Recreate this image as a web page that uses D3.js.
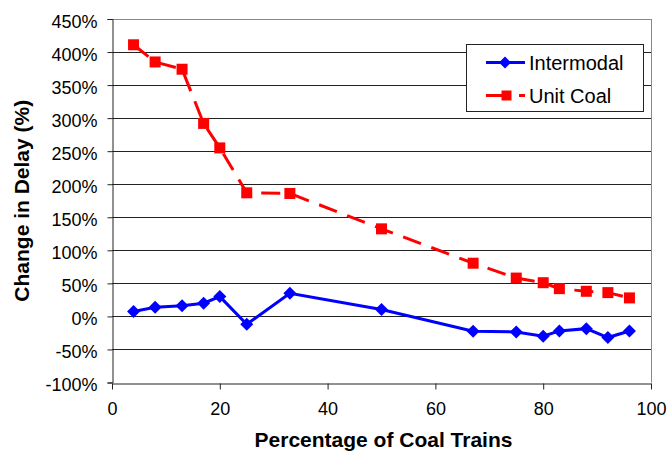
<!DOCTYPE html>
<html><head><meta charset="utf-8">
<script src="https://cdn.jsdelivr.net/npm/d3@7"></script>
<style>body{margin:0;background:#fff}svg{display:block}text{font-family:"Liberation Sans",Arial,sans-serif}</style>
</head><body>
<script>
const xValues = [4, 8, 13, 17, 20, 25, 33, 50, 67, 75, 80, 83, 88, 92, 96];
const intermodal = [7.5, 14, 16, 20, 30, -12, 35, 10.5, -22.5, -23.5, -30, -22, -18.5, -32, -22];
const unitCoal = [411, 385, 374, 292, 255, 187, 186, 132.5, 80.5, 58, 51, 42, 38, 36, 28];
const yTicks = [-100, -50, 0, 50, 100, 150, 200, 250, 300, 350, 400, 450];
const xTicks = [0, 20, 40, 60, 80, 100];
const seriesNames = ["Intermodal", "Unit Coal"];

const W = 668, H = 458;
const svg = d3.select("body").append("svg").attr("width", W).attr("height", H);
const x = d3.scaleLinear().domain([0, 100]).range([112, 651]);
const y = d3.scaleLinear().domain([-100, 450]).range([382.5, 19]);

// gridlines
svg.append("g").selectAll("line").data(yTicks.filter(d => d !== -100)).join("line")
  .attr("x1", x(0)).attr("x2", x(100)).attr("y1", d => Math.round(y(d)) + 0.5).attr("y2", d => Math.round(y(d)) + 0.5)
  .attr("stroke", d => d === 450 ? "#888" : "#222").attr("stroke-width", 1);
// right border
svg.append("line").attr("x1", x(100) + 0.5).attr("x2", x(100) + 0.5).attr("y1", y(450)).attr("y2", y(-100))
  .attr("stroke", "#888");

// axes
const yAxis = d3.axisLeft(y).tickValues(yTicks).tickFormat(d => d + "%").tickSize(5).tickPadding(10);
const gy = svg.append("g").attr("transform", `translate(${x(0) + 0.5},0)`).call(yAxis);
const xAxis = d3.axisBottom(x).tickValues(xTicks).tickSize(5).tickPadding(14);
const gx = svg.append("g").attr("transform", `translate(0,${Math.round(y(-100)) + 0.5})`).call(xAxis);
[gy, gx].forEach(g => {
  g.select(".domain").attr("stroke", "#222");
  g.selectAll(".tick line").attr("stroke", "#222");
  g.selectAll("text").attr("font-size", 18).attr("fill", "#000").attr("font-family", "Liberation Sans, Arial, sans-serif");
});
gy.selectAll(".tick text").attr("dy", "0.45em");
gx.selectAll(".tick line").attr("y2", 6);

// titles
svg.append("text").attr("x", (x(0) + x(100)) / 2 + 2).attr("y", 447).attr("text-anchor", "middle")
  .attr("font-size", 21).attr("font-weight", "bold").text("Percentage of Coal Trains");
svg.append("text").attr("transform", `translate(29,${(y(450) + y(-100)) / 2}) rotate(-90)`).attr("text-anchor", "middle")
  .attr("font-size", 21).attr("font-weight", "bold").text("Change in Delay (%)");

const line = d3.line().x(d => x(d[0])).y(d => y(d[1]));
const dataI = xValues.map((v, i) => [v, intermodal[i]]);
const dataU = xValues.map((v, i) => [v, unitCoal[i]]);

// Unit coal
svg.append("path").datum(dataU).attr("d", line).attr("fill", "none").attr("stroke", "#ff0000")
  .attr("stroke-width", 3).attr("stroke-dasharray", "19,11");
svg.append("g").selectAll("rect").data(dataU).join("rect")
  .attr("x", d => x(d[0]) - 5.5).attr("y", d => y(d[1]) - 5.5).attr("width", 11).attr("height", 11).attr("fill", "#ff0000");

// Intermodal
svg.append("path").datum(dataI).attr("d", line).attr("fill", "none").attr("stroke", "#0000ff").attr("stroke-width", 3);
const diamond = s => `M0,${-s}L${s},0L0,${s}L${-s},0Z`;
svg.append("g").selectAll("path").data(dataI).join("path")
  .attr("transform", d => `translate(${x(d[0])},${y(d[1])})`).attr("d", diamond(6.5)).attr("fill", "#0000ff");

// legend
const lg = svg.append("g");
lg.append("rect").attr("x", 466.5).attr("y", 44.5).attr("width", 177).attr("height", 67).attr("fill", "#fff").attr("stroke", "#222");
lg.append("line").attr("x1", 486).attr("x2", 525).attr("y1", 62.5).attr("y2", 62.5).attr("stroke", "#0000ff").attr("stroke-width", 3);
lg.append("path").attr("transform", "translate(505,62.5)").attr("d", diamond(6)).attr("fill", "#0000ff");
lg.append("line").attr("x1", 486).attr("x2", 525).attr("y1", 95.5).attr("y2", 95.5).attr("stroke", "#ff0000").attr("stroke-width", 3).attr("stroke-dasharray", "22,11");
lg.append("rect").attr("x", 501.5).attr("y", 90.5).attr("width", 10).attr("height", 10).attr("fill", "#ff0000");
lg.selectAll("text.lt").data(seriesNames).join("text").attr("class", "lt")
  .attr("x", 529).attr("y", (d, i) => 62.5 + i * 33 + 7).attr("font-size", 20).attr("fill", "#000").text(d => d);
</script>
</body></html>
